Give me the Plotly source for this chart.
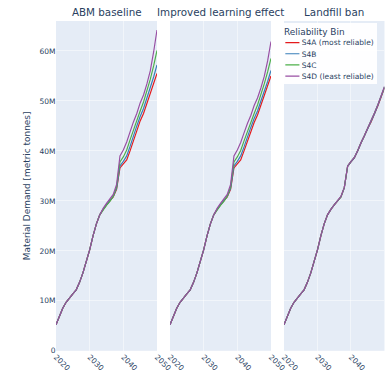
import plotly.graph_objects as go

years = list(range(2020, 2051))
scenarios = ["ABM baseline", "Improved learning effect", "Landfill ban"]
bins = ["S4A (most reliable)", "S4B", "S4C", "S4D (least reliable)"]
colors = ["#e41a1c", "#377eb8", "#4daf4a", "#984ea3"]

# Material demand, million metric tonnes, 2020-2050
base_s4a = [5.2, 6.9, 8.5, 9.7, 10.6, 11.4, 12.2, 13.7, 15.6, 17.8, 20.2, 23.0, 25.4, 27.2,
            28.3, 29.2, 30.0, 30.8, 32.3, 36.6, 37.4, 38.2, 40.0, 42.0, 44.2, 46.0, 47.5, 49.5, 51.4, 53.3, 55.5]
base_s4b = [5.2, 6.9, 8.5, 9.7, 10.6, 11.4, 12.2, 13.7, 15.6, 17.8, 20.2, 23.0, 25.4, 27.2,
            28.3, 29.2, 30.0, 30.9, 32.5, 37.0, 37.9, 39.0, 40.9, 43.0, 45.0, 46.9, 48.5, 50.6, 52.6, 54.8, 57.2]
base_s4c = [5.2, 6.9, 8.5, 9.7, 10.6, 11.4, 12.2, 13.7, 15.6, 17.8, 20.2, 23.0, 25.4, 27.2,
            28.2, 29.1, 29.9, 30.9, 32.8, 37.8, 38.8, 40.2, 42.2, 44.2, 46.0, 48.0, 49.8, 52.0, 54.3, 57.0, 60.1]
base_s4d = [5.2, 6.9, 8.5, 9.7, 10.6, 11.4, 12.2, 13.7, 15.6, 17.8, 20.2, 23.0, 25.4, 27.2,
            28.5, 29.5, 30.4, 31.3, 33.3, 39.0, 40.2, 41.8, 43.8, 45.8, 47.5, 49.6, 51.2, 53.4, 56.0, 59.8, 64.2]

learn_s4a = [5.2, 6.9, 8.5, 9.7, 10.6, 11.4, 12.2, 13.7, 15.6, 17.8, 20.2, 23.0, 25.4, 27.2,
             28.3, 29.2, 30.0, 30.8, 32.3, 36.6, 37.4, 38.2, 40.0, 41.9, 44.0, 45.7, 47.2, 49.1, 51.0, 52.9, 55.0]
learn_s4b = [5.2, 6.9, 8.5, 9.7, 10.6, 11.4, 12.2, 13.7, 15.6, 17.8, 20.2, 23.0, 25.4, 27.2,
             28.3, 29.2, 30.0, 30.9, 32.5, 37.0, 37.9, 39.0, 40.8, 42.8, 44.7, 46.5, 48.0, 50.0, 51.9, 53.9, 56.1]
learn_s4c = [5.2, 6.9, 8.5, 9.7, 10.6, 11.4, 12.2, 13.7, 15.6, 17.8, 20.2, 23.0, 25.4, 27.2,
             28.2, 29.1, 29.9, 30.9, 32.8, 37.8, 38.8, 40.1, 42.0, 43.9, 45.6, 47.5, 49.2, 51.2, 53.4, 55.8, 58.5]
learn_s4d = [5.2, 6.9, 8.5, 9.7, 10.6, 11.4, 12.2, 13.7, 15.6, 17.8, 20.2, 23.0, 25.4, 27.2,
             28.5, 29.5, 30.4, 31.3, 33.3, 39.0, 40.2, 41.7, 43.6, 45.5, 47.1, 49.1, 50.6, 52.6, 54.9, 58.0, 61.9]

ban_s4a = [5.2, 6.9, 8.5, 9.7, 10.6, 11.4, 12.2, 13.7, 15.6, 17.8, 20.2, 23.0, 25.4, 27.2,
           28.3, 29.2, 30.0, 30.8, 32.6, 36.9, 37.8, 38.6, 40.0, 41.6, 43.0, 44.5, 45.8, 47.4, 49.0, 50.8, 52.6]
ban_s4b = [5.2, 6.9, 8.5, 9.7, 10.6, 11.4, 12.2, 13.7, 15.6, 17.8, 20.2, 23.0, 25.4, 27.2,
           28.3, 29.2, 30.0, 30.8, 32.6, 36.9, 37.8, 38.6, 40.0, 41.6, 43.0, 44.5, 45.9, 47.4, 49.1, 50.9, 52.7]
ban_s4c = [5.2, 6.9, 8.5, 9.7, 10.6, 11.4, 12.2, 13.7, 15.6, 17.8, 20.2, 23.0, 25.4, 27.2,
           28.3, 29.2, 30.0, 30.8, 32.7, 37.0, 37.9, 38.7, 40.1, 41.7, 43.1, 44.6, 46.0, 47.6, 49.2, 51.0, 52.8]
ban_s4d = [5.2, 6.9, 8.5, 9.7, 10.6, 11.4, 12.2, 13.7, 15.6, 17.8, 20.2, 23.0, 25.4, 27.2,
           28.3, 29.2, 30.0, 30.9, 32.7, 37.0, 37.9, 38.7, 40.1, 41.7, 43.1, 44.6, 46.0, 47.6, 49.2, 51.0, 52.9]

series = {
    "ABM baseline": [base_s4a, base_s4b, base_s4c, base_s4d],
    "Improved learning effect": [learn_s4a, learn_s4b, learn_s4c, learn_s4d],
    "Landfill ban": [ban_s4a, ban_s4b, ban_s4c, ban_s4d],
}

FONT = "DejaVu Sans"
TXT = "#2a3f5f"
W, H = 392, 379          # visible window
HP = H + 40              # paper continues below the window (cropped, as in the reference)
S = 0.47                 # figure is drawn at full size, then shown scaled
W0, H0 = round(W / S), round(HP / S)

fig = go.Figure()
axis_ids = ["", "2", "3"]
for si, scen in enumerate(scenarios):
    for bi, b in enumerate(bins):
        fig.add_trace(go.Scatter(
            x=years, y=[v * 1e6 for v in series[scen][bi]],
            mode="lines", name=b, legendgroup=b,
            showlegend=(si == 0),
            line=dict(color=colors[bi], width=2.5),
            xaxis="x" + axis_ids[si], yaxis="y" + axis_ids[si],
        ))

# panel positions in visible pixels (converted to paper fractions)
xdom_px = [(56, 157), (170, 271), (284, 384.5)]
ytop, ybot = 21, 351
ydom = [(HP - ybot) / HP, (HP - ytop) / HP]

layout = dict(
    width=W0, height=H0,
    margin=dict(l=0, r=0, t=0, b=0, autoexpand=False),
    template="plotly",
    font=dict(family=FONT, size=16, color=TXT),
    plot_bgcolor="#E5ECF6",
    paper_bgcolor="white",
    legend=dict(
        title=dict(text="Reliability Bin"),
        x=283 / W, y=(HP - 23) / HP, xanchor="left", yanchor="top",
        bgcolor="rgba(255,255,255,0.95)",
        tracegroupgap=0,
    ),
    annotations=[],
)

for si, scen in enumerate(scenarios):
    xa = "xaxis" + axis_ids[si]
    ya = "yaxis" + axis_ids[si]
    x0, x1 = xdom_px[si]
    layout[xa] = dict(
        domain=[x0 / W, x1 / W], range=[2020, 2050], dtick=10, tick0=2020,
        tickangle=45, anchor="y" + axis_ids[si], automargin=False,
        title=dict(text="Year", font=dict(size=19), standoff=15),
        gridcolor="white", zeroline=False,
    )
    layout[ya] = dict(
        domain=ydom, range=[0, 66e6], dtick=10e6, anchor="x" + axis_ids[si],
        gridcolor="white", zeroline=False, automargin=False,
        showticklabels=(si == 0),
    )
    if si == 0:
        layout[ya]["title"] = dict(text="Material Demand [metric tonnes]", font=dict(size=19))
    else:
        layout[ya]["matches"] = "y"
    layout["annotations"].append(dict(
        text=scen, xref="paper", yref="paper",
        x=(x0 + x1) / 2 / W, y=ydom[1], xanchor="center", yanchor="bottom",
        yshift=3, showarrow=False, font=dict(size=22, color=TXT),
    ))

# edge of neighbouring panel visible at the far left
layout["xaxis4"] = dict(domain=[0, 2.0 / W], range=[0, 1], showticklabels=False,
                        showgrid=False, zeroline=False, anchor="y4", automargin=False)
layout["yaxis4"] = dict(domain=[(HP - 353) / HP, (HP - 56) / HP], range=[0, 1],
                        showticklabels=False, gridcolor="white", zeroline=False,
                        anchor="x4", dtick=0.12, automargin=False)

fig.update_layout(**layout)

post = """
var gd = document.getElementById('{plot_id}');
document.documentElement.style.overflow = 'hidden';
document.body.style.overflow = 'hidden';
document.body.style.margin = '0';
gd.style.transformOrigin = '0 0';
gd.style.transform = 'scale(%s)';
""" % S

fig.write_html("out.html", post_script=post)
